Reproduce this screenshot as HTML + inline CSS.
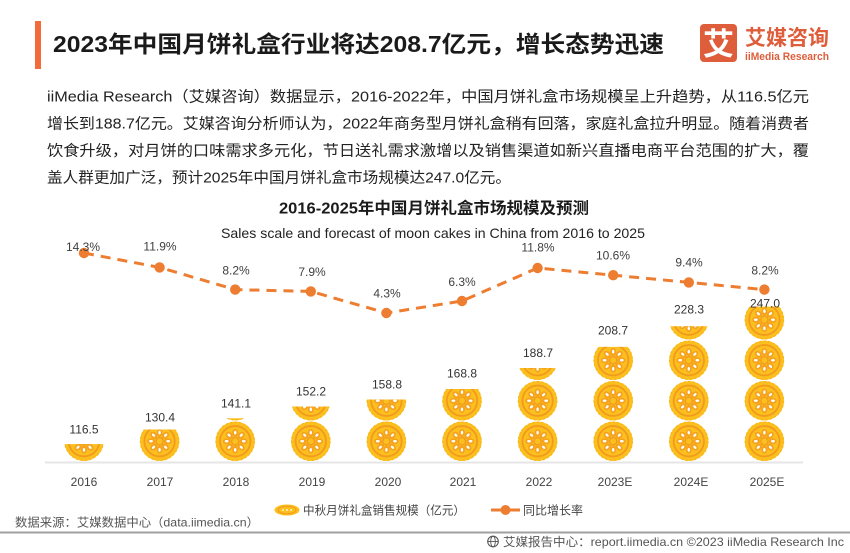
<!DOCTYPE html>
<html><head><meta charset="utf-8">
<style>
html,body{margin:0;padding:0;background:#fff;}
svg{display:block;}
text{font-family:"Liberation Sans","Noto Sans CJK SC",sans-serif;}
</style></head>
<body>
<svg width="850" height="553" viewBox="0 0 850 553" xmlns="http://www.w3.org/2000/svg">
<defs>
  <g id="mc">
    <circle r="19.6" fill="#fbbf1e"/>
    <circle r="19.3" fill="none" stroke="#f7b515" stroke-width="1" stroke-dasharray="2.5 2"/>
    <circle r="15.2" fill="none" stroke="#f29a1e" stroke-width="1.8"/>
    <g fill="#f5a21f">
      <ellipse cx="0" cy="-8.3" rx="3" ry="4" transform="rotate(0)"/>
      <ellipse cx="0" cy="-8.3" rx="3" ry="4" transform="rotate(45)"/>
      <ellipse cx="0" cy="-8.3" rx="3" ry="4" transform="rotate(90)"/>
      <ellipse cx="0" cy="-8.3" rx="3" ry="4" transform="rotate(135)"/>
      <ellipse cx="0" cy="-8.3" rx="3" ry="4" transform="rotate(180)"/>
      <ellipse cx="0" cy="-8.3" rx="3" ry="4" transform="rotate(225)"/>
      <ellipse cx="0" cy="-8.3" rx="3" ry="4" transform="rotate(270)"/>
      <ellipse cx="0" cy="-8.3" rx="3" ry="4" transform="rotate(315)"/>
    </g>
    <g fill="#ffffff">
      <ellipse cx="0" cy="-8.6" rx="1.2" ry="1.9" transform="rotate(0)"/>
      <ellipse cx="0" cy="-8.6" rx="1.2" ry="1.9" transform="rotate(45)"/>
      <ellipse cx="0" cy="-8.6" rx="1.2" ry="1.9" transform="rotate(90)"/>
      <ellipse cx="0" cy="-8.6" rx="1.2" ry="1.9" transform="rotate(135)"/>
      <ellipse cx="0" cy="-8.6" rx="1.2" ry="1.9" transform="rotate(180)"/>
      <ellipse cx="0" cy="-8.6" rx="1.2" ry="1.9" transform="rotate(225)"/>
      <ellipse cx="0" cy="-8.6" rx="1.2" ry="1.9" transform="rotate(270)"/>
      <ellipse cx="0" cy="-8.6" rx="1.2" ry="1.9" transform="rotate(315)"/>
    </g>
    <circle r="3.6" fill="#fbbf1e" stroke="#f29a1e" stroke-width="1.3"/>
  </g>
  <clipPath id="bars">
    <rect x="63" y="444.1" width="42" height="17.4"/>
    <rect x="138.6" y="429.5" width="42" height="32"/>
    <rect x="214.2" y="418.2" width="42" height="43.3"/>
    <rect x="289.8" y="406.5" width="42" height="55"/>
    <rect x="365.4" y="399.5" width="42" height="62"/>
    <rect x="441" y="389" width="42" height="72.5"/>
    <rect x="516.6" y="368" width="42" height="93.5"/>
    <rect x="592.2" y="346.9" width="42" height="114.6"/>
    <rect x="667.8" y="326.3" width="42" height="135.2"/>
    <rect x="743.4" y="306.6" width="42" height="154.9"/>
  </clipPath>
</defs>

<!-- Header -->
<rect x="35" y="21" width="6" height="48" fill="#f26b3a"/>
<text x="53" y="52" font-size="23" font-weight="bold" fill="#1a1a1a" textLength="611" lengthAdjust="spacingAndGlyphs">2023年中国月饼礼盒行业将达208.7亿元，增长态势迅速</text>

<!-- Logo -->
<rect x="700" y="24" width="37" height="38" rx="4" fill="#de5e3c"/>
<text x="718.5" y="55" font-size="31" font-weight="bold" fill="#fff" text-anchor="middle">艾</text>
<text x="745" y="45" font-size="21" font-weight="bold" fill="#de5e3c" textLength="84" lengthAdjust="spacingAndGlyphs">艾媒咨询</text>
<text x="745" y="60" font-size="11" font-weight="bold" fill="#de5e3c" textLength="84" lengthAdjust="spacingAndGlyphs">iiMedia Research</text>

<!-- Paragraph -->
<g font-size="15" fill="#222">
<text x="47" y="101.5" textLength="762" lengthAdjust="spacingAndGlyphs">iiMedia Research（艾媒咨询）数据显示，2016-2022年，中国月饼礼盒市场规模呈上升趋势，从116.5亿元</text>
<text x="47" y="128.5" textLength="762" lengthAdjust="spacingAndGlyphs">增长到188.7亿元。艾媒咨询分析师认为，2022年商务型月饼礼盒稍有回落，家庭礼盒拉升明显。随着消费者</text>
<text x="47" y="155.5" textLength="762" lengthAdjust="spacingAndGlyphs">饮食升级，对月饼的口味需求多元化，节日送礼需求激增以及销售渠道如新兴直播电商平台范围的扩大，覆</text>
<text x="47" y="182.5" textLength="464" lengthAdjust="spacingAndGlyphs">盖人群更加广泛，预计2025年中国月饼礼盒市场规模达247.0亿元。</text>
</g>

<!-- Chart titles -->
<text x="279" y="213.5" font-size="16" font-weight="bold" fill="#1a1a1a" textLength="310" lengthAdjust="spacingAndGlyphs">2016-2025年中国月饼礼盒市场规模及预测</text>
<text x="221" y="238" font-size="14" fill="#222" textLength="424" lengthAdjust="spacingAndGlyphs">Sales scale and forecast of moon cakes in China from 2016 to 2025</text>

<!-- Axis line -->
<rect x="45" y="461.5" width="758" height="2" fill="#e6e6e6"/>

<!-- Bars of mooncakes -->
<g clip-path="url(#bars)">
  <use href="#mc" x="84" y="441.25"/>
  <use href="#mc" x="159.6" y="441.25"/>
  <use href="#mc" x="235.2" y="441.25"/><use href="#mc" x="235.2" y="400.75"/>
  <use href="#mc" x="310.8" y="441.25"/><use href="#mc" x="310.8" y="400.75"/>
  <use href="#mc" x="386.4" y="441.25"/><use href="#mc" x="386.4" y="400.75"/>
  <use href="#mc" x="462" y="441.25"/><use href="#mc" x="462" y="400.75"/>
  <use href="#mc" x="537.6" y="441.25"/><use href="#mc" x="537.6" y="400.75"/><use href="#mc" x="537.6" y="360.25"/>
  <use href="#mc" x="613.2" y="441.25"/><use href="#mc" x="613.2" y="400.75"/><use href="#mc" x="613.2" y="360.25"/>
  <use href="#mc" x="688.8" y="441.25"/><use href="#mc" x="688.8" y="400.75"/><use href="#mc" x="688.8" y="360.25"/><use href="#mc" x="688.8" y="319.75"/>
  <use href="#mc" x="764.4" y="441.25"/><use href="#mc" x="764.4" y="400.75"/><use href="#mc" x="764.4" y="360.25"/><use href="#mc" x="764.4" y="319.75"/>
</g>

<!-- Value labels -->
<g font-size="12" fill="#333" text-anchor="middle">
<text x="84" y="433.3">116.5</text>
<text x="160" y="421.3">130.4</text>
<text x="236" y="407.3">141.1</text>
<text x="311" y="395.3">152.2</text>
<text x="387" y="388.3">158.8</text>
<text x="462" y="377.3">168.8</text>
<text x="538" y="357">188.7</text>
<text x="613" y="334.3">208.7</text>
<text x="689" y="313.3">228.3</text>
<text x="765" y="307.3">247.0</text>
</g>

<!-- Growth line -->
<polyline points="84,253 159.6,267.4 235.2,289.6 310.8,291.4 386.4,313 462,301 537.6,268 613.2,275.2 688.8,282.4 764.4,289.6" fill="none" stroke="#ed7d31" stroke-width="3" stroke-dasharray="10 7"/>
<g fill="#ed7d31">
<circle cx="84" cy="253" r="5.2"/>
<circle cx="159.6" cy="267.4" r="5.2"/>
<circle cx="235.2" cy="289.6" r="5.2"/>
<circle cx="310.8" cy="291.4" r="5.2"/>
<circle cx="386.4" cy="313" r="5.2"/>
<circle cx="462" cy="301" r="5.2"/>
<circle cx="537.6" cy="268" r="5.2"/>
<circle cx="613.2" cy="275.2" r="5.2"/>
<circle cx="688.8" cy="282.4" r="5.2"/>
<circle cx="764.4" cy="289.6" r="5.2"/>
</g>

<!-- Percent labels -->
<g font-size="12" fill="#404040" text-anchor="middle">
<text x="83" y="251">14.3%</text>
<text x="160" y="250.5">11.9%</text>
<text x="236" y="274.5">8.2%</text>
<text x="312" y="276">7.9%</text>
<text x="387" y="297.5">4.3%</text>
<text x="462" y="286">6.3%</text>
<text x="538" y="251.5">11.8%</text>
<text x="613" y="259.5">10.6%</text>
<text x="689" y="266.5">9.4%</text>
<text x="765" y="274.5">8.2%</text>
</g>

<!-- Year labels -->
<g font-size="12" fill="#444" text-anchor="middle">
<text x="84" y="486">2016</text>
<text x="160" y="486">2017</text>
<text x="236" y="486">2018</text>
<text x="312" y="486">2019</text>
<text x="388" y="486">2020</text>
<text x="463" y="486">2021</text>
<text x="539" y="486">2022</text>
<text x="615" y="486">2023E</text>
<text x="691" y="486">2024E</text>
<text x="767" y="486">2025E</text>
</g>

<!-- Legend -->
<ellipse cx="287" cy="510" rx="12.5" ry="5.5" fill="#fbbf1e"/>
<ellipse cx="287" cy="510" rx="9" ry="3.8" fill="none" stroke="#f29a1e" stroke-width="1"/>
<circle cx="283" cy="510" r="0.9" fill="#fff"/><circle cx="287" cy="510" r="0.9" fill="#fff"/><circle cx="291" cy="510" r="0.9" fill="#fff"/>
<text x="303" y="514.5" font-size="12" fill="#444" textLength="162" lengthAdjust="spacingAndGlyphs">中秋月饼礼盒销售规模（亿元）</text>
<line x1="491" y1="510" x2="520" y2="510" stroke="#ed7d31" stroke-width="3"/>
<circle cx="505.5" cy="510" r="5" fill="#ed7d31"/>
<text x="523" y="514.5" font-size="12" fill="#444" textLength="60" lengthAdjust="spacingAndGlyphs">同比增长率</text>

<!-- Source -->
<text x="15" y="526.5" font-size="12" fill="#555" textLength="244" lengthAdjust="spacingAndGlyphs">数据来源：艾媒数据中心（data.iimedia.cn）</text>

<!-- Footer -->
<rect x="0" y="531.5" width="850" height="2" fill="#a0a0a0"/>
<circle cx="493" cy="541.5" r="5.3" fill="none" stroke="#555" stroke-width="1.1"/>
<line x1="487.7" y1="541.5" x2="498.3" y2="541.5" stroke="#555" stroke-width="0.9"/>
<ellipse cx="493" cy="541.5" rx="2.3" ry="5.3" fill="none" stroke="#555" stroke-width="0.9"/>
<text x="503" y="546" font-size="12" fill="#555" textLength="341" lengthAdjust="spacingAndGlyphs">艾媒报告中心：report.iimedia.cn  ©2023  iiMedia Research  Inc</text>
</svg>
</body></html>
